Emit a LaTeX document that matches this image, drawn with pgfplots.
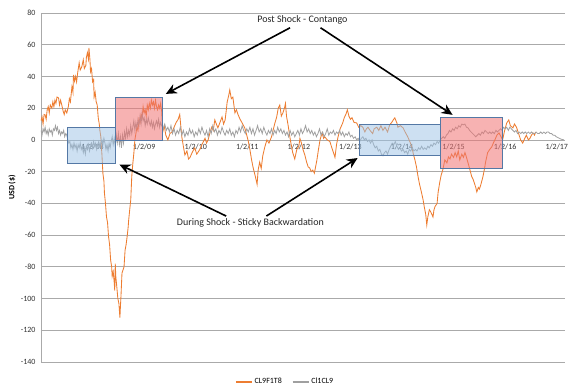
\documentclass[border=0pt]{standalone}
\usepackage{pgfplots}
\pgfplotsset{compat=1.18}
\usepackage{pgfplotstable}
\usepackage{fontspec}
\setmainfont{Carlito}
\usetikzlibrary{arrows.meta}
\definecolor{xlorange}{RGB}{237,125,49}
\definecolor{xlgray}{RGB}{160,160,160}
\definecolor{gridc}{RGB}{170,170,170}
\definecolor{boxedge}{RGB}{84,120,165}
\definecolor{pinkf}{RGB}{240,115,115}
\definecolor{bluef}{RGB}{155,194,230}

\pgfplotstableread{
x y
2007.00 12
2007.02 14.5
2007.04 10
2007.06 16
2007.08 15.8
2007.10 13
2007.12 19
2007.14 21
2007.16 17
2007.18 22
2007.21 20
2007.23 24
2007.25 21
2007.27 25
2007.29 23
2007.31 27
2007.34 26.5
2007.36 22
2007.38 25
2007.41 21
2007.43 18
2007.45 16
2007.47 19
2007.50 17
2007.53 21
2007.55 26
2007.57 24
2007.60 33.5
2007.62 30
2007.63 41
2007.65 37
2007.67 40
2007.69 36.6
2007.71 42
2007.74 48.6
2007.76 44
2007.79 46
2007.82 50.5
2007.84 45
2007.87 47
2007.88 52
2007.90 55
2007.92 51
2007.93 58
2007.95 50
2007.96 43
2007.98 45
2008.00 36.6
2008.02 38
2008.03 27
2008.05 30
2008.07 24
2008.09 22
2008.11 13.9
2008.13 10
2008.14 6.3
2008.16 2
2008.17 -4
2008.18 -8.5
2008.20 -21
2008.22 -26
2008.23 -33.5
2008.25 -40
2008.27 -48.6
2008.29 -52
2008.31 -61
2008.33 -66
2008.35 -75.7
2008.37 -80
2008.38 -86
2008.40 -83
2008.42 -90
2008.43 -95
2008.44 -78
2008.45 -86
2008.47 -92.7
2008.49 -100
2008.51 -103
2008.53 -112
2008.54 -105
2008.55 -99
2008.57 -84
2008.59 -82
2008.61 -80
2008.63 -69.6
2008.65 -66
2008.67 -61
2008.69 -55
2008.70 -50.5
2008.72 -44
2008.74 -37.9
2008.76 -23
2008.78 -15
2008.80 -8.5
2008.82 0
2008.84 4
2008.86 8
2008.88 6
2008.90 13
2008.92 11
2008.94 16
2008.96 14
2008.98 21
2009.00 17
2009.02 19
2009.04 15
2009.06 22
2009.08 19
2009.10 23
2009.12 20
2009.14 25
2009.16 22
2009.18 24
2009.20 20
2009.22 25
2009.24 21
2009.26 19
2009.28 22
2009.30 20
2009.32 23
2009.34 18
2009.36 5
2009.39 9
2009.42 3
2009.46 0
2009.50 4
2009.54 5
2009.58 8
2009.62 11
2009.66 13
2009.69 16
2009.71 9
2009.73 2
2009.76 -4
2009.79 -9.5
2009.83 -7
2009.86 -12
2009.89 -11
2009.93 -8
2009.98 -5
2010.02 -9
2010.08 -6
2010.12 -3
2010.18 1
2010.21 -2
2010.24 0
2010.28 5
2010.31 8
2010.34 6
2010.37 12.6
2010.40 10
2010.43 7.6
2010.47 11
2010.51 14.5
2010.54 10
2010.57 12.6
2010.59 18
2010.61 24
2010.64 28
2010.66 31.5
2010.69 26
2010.72 27
2010.74 22
2010.76 17
2010.79 19
2010.82 16
2010.86 13
2010.90 10.7
2010.95 7.6
2010.99 3
2011.02 -1
2011.05 -6
2011.08 -12
2011.11 -17
2011.14 -21
2011.17 -25
2011.19 -28
2011.21 -19
2011.24 -14
2011.27 -18
2011.30 -10
2011.34 -4.4
2011.38 0
2011.42 -2
2011.47 2
2011.50 6
2011.53 10
2011.57 14.5
2011.60 20
2011.63 22
2011.66 15
2011.69 17
2011.72 20
2011.74 23
2011.76 15
2011.79 9.5
2011.82 3
2011.84 -1
2011.88 -8
2011.92 -12
2011.96 -6
2012.00 -4
2012.02 1
2012.05 -2
2012.08 -6
2012.12 -10
2012.15 -14
2012.18 -17
2012.21 -17.7
2012.24 -20
2012.27 -19
2012.30 -21
2012.33 -16
2012.35 -12.6
2012.38 -6
2012.41 0
2012.45 4.4
2012.48 1
2012.50 2
2012.55 0
2012.60 -1
2012.64 -5
2012.68 -9
2012.70 -11
2012.73 -3
2012.76 2
2012.80 7
2012.85 10.7
2012.88 14
2012.91 16
2012.94 19
2012.97 15
2013.00 13
2013.03 14
2013.07 11
2013.12 10.7
2013.16 8
2013.20 9
2013.24 8
2013.28 5
2013.31 7
2013.34 8
2013.38 6
2013.43 4
2013.46 7
2013.51 8
2013.55 6
2013.59 9
2013.63 6
2013.67 8
2013.72 5
2013.76 9.5
2013.80 11
2013.83 12.6
2013.86 13.9
2013.90 10.7
2013.92 8
2013.97 9
2014.02 7.6
2014.06 5
2014.11 2
2014.15 -1
2014.19 -4.4
2014.22 -9
2014.25 -12.6
2014.28 -17
2014.31 -23
2014.34 -28
2014.38 -33.5
2014.41 -38
2014.43 -42
2014.46 -47
2014.48 -53.6
2014.50 -48.6
2014.53 -44
2014.55 -45
2014.58 -47
2014.60 -48.6
2014.62 -44
2014.64 -42
2014.68 -40
2014.70 -33
2014.73 -27
2014.76 -22
2014.79 -19
2014.83 -12.6
2014.87 -14.5
2014.90 -10.7
2014.93 -12
2014.96 -9
2015.00 -11
2015.03 -8
2015.06 -10.7
2015.09 -7
2015.12 -12.6
2015.16 -9
2015.19 -11
2015.22 -8
2015.25 -11
2015.28 -14.5
2015.31 -18
2015.35 -23
2015.38 -25
2015.41 -28
2015.43 -30
2015.45 -32.8
2015.48 -30
2015.50 -31
2015.53 -28
2015.57 -23
2015.60 -18
2015.62 -14
2015.66 -8
2015.70 -6
2015.74 -4.4
2015.77 -2
2015.80 0
2015.84 3
2015.88 4.4
2015.92 2
2015.95 0
2015.99 6
2016.03 10.7
2016.07 12.6
2016.10 9
2016.15 7.6
2016.18 10
2016.22 8
2016.26 4
2016.30 0
2016.34 -2
2016.38 1
2016.41 3
2016.45 0
2016.48 1
2016.51 3
2016.54 4.4
2016.57 3
2016.59 5
}\orangedata

\pgfplotstableread{
x y
2007.00 6
2007.02 3
2007.04 7
2007.06 5
2007.08 8
2007.10 4
2007.12 6
2007.14 3
2007.16 7
2007.18 5
2007.20 6
2007.22 3
2007.24 7
2007.26 6
2007.28 9
2007.30 6
2007.32 8
2007.34 4
2007.36 6
2007.38 3
2007.40 5
2007.42 4
2007.44 6
2007.46 2
2007.48 4
2007.50 3
2007.52 0
2007.54 -2
2007.56 -1
2007.58 -5
2007.60 -3
2007.62 -6
2007.64 -2
2007.66 -5
2007.68 -3
2007.70 -7
2007.72 -3
2007.74 -5
2007.76 -2
2007.78 -6
2007.80 -4
2007.82 -8
2007.84 -5
2007.86 -9
2007.88 -4
2007.90 -6
2007.92 -3
2007.94 -7
2007.96 -4
2007.98 -2
2008.00 -5
2008.02 -1
2008.04 -4
2008.06 -2
2008.08 -6
2008.10 -3
2008.12 -1
2008.14 -4
2008.16 -2
2008.18 0
2008.20 -3
2008.22 1
2008.24 -2
2008.26 -6
2008.28 -3
2008.30 -7
2008.32 -2
2008.34 -5
2008.36 -1
2008.38 2
2008.40 -3
2008.42 1
2008.44 -4
2008.46 3
2008.48 -2
2008.50 4
2008.52 -3
2008.54 2
2008.56 -5
2008.58 3
2008.60 -2
2008.62 5
2008.64 1
2008.66 7
2008.68 2
2008.70 6
2008.72 3
2008.74 9
2008.76 4
2008.78 8
2008.80 12
2008.82 6
2008.84 11
2008.86 7
2008.88 13
2008.90 9
2008.92 15
2008.94 10
2008.96 17
2008.98 12
2009.00 14
2009.02 9
2009.04 13
2009.06 10
2009.08 14
2009.10 11
2009.12 9
2009.14 12
2009.16 8
2009.18 11
2009.20 7
2009.22 10
2009.24 12
2009.26 9
2009.28 13
2009.30 8
2009.32 11
2009.34 9
2009.37 7
2009.40 10
2009.43 6
2009.46 8
2009.49 5
2009.52 9
2009.55 4
2009.58 7
2009.61 3
2009.64 6
2009.67 4
2009.70 8
2009.73 3
2009.76 6
2009.79 2
2009.82 5
2009.85 3
2009.88 7
2009.91 4
2009.94 6
2009.97 2
2010.00 5
2010.03 3
2010.06 7
2010.09 4
2010.12 8
2010.15 5
2010.18 3
2010.21 6
2010.24 2
2010.27 7
2010.30 4
2010.33 9
2010.36 5
2010.39 7
2010.42 3
2010.45 6
2010.48 4
2010.51 8
2010.54 5
2010.57 3
2010.60 6
2010.63 4
2010.66 7
2010.69 3
2010.72 5
2010.75 2
2010.78 6
2010.81 4
2010.84 8
2010.87 5
2010.90 9
2010.93 6
2010.96 4
2010.99 7
2011.02 5
2011.05 8
2011.08 4
2011.11 7
2011.14 3
2011.17 6
2011.20 9
2011.23 5
2011.26 7
2011.29 4
2011.32 8
2011.35 5
2011.38 3
2011.41 6
2011.44 4
2011.47 7
2011.50 3
2011.53 6
2011.56 4
2011.59 8
2011.62 5
2011.65 7
2011.68 4
2011.71 6
2011.74 3
2011.77 5
2011.80 2
2011.83 6
2011.86 3
2011.89 5
2011.92 2
2011.95 4
2011.98 6
2012.01 3
2012.04 7
2012.07 4
2012.10 6
2012.13 9
2012.16 5
2012.19 7
2012.22 4
2012.25 6
2012.28 3
2012.31 5
2012.34 2
2012.37 4
2012.40 7
2012.43 3
2012.46 5
2012.49 2
2012.52 4
2012.55 7
2012.58 3
2012.61 5
2012.64 4
2012.67 6
2012.70 3
2012.73 5
2012.76 4
2012.79 6
2012.82 3
2012.85 5
2012.88 2
2012.91 4
2012.94 3
2012.97 5
2013.00 2
2013.03 3
2013.06 1
2013.09 2
2013.12 0
2013.15 1
2013.18 -1
2013.21 1
2013.24 2
2013.27 0
2013.30 1
2013.33 -1
2013.36 0
2013.39 -2
2013.42 0
2013.45 -3
2013.48 -5
2013.51 -4
2013.54 -7
2013.57 -6
2013.60 -9
2013.63 -10
2013.66 -8
2013.69 -7
2013.72 -9
2013.75 -6
2013.78 -4
2013.81 -2
2013.84 -3
2013.87 -1
2013.90 -4
2013.93 -6
2013.96 -5
2013.99 -7
2014.02 -6
2014.05 -8
2014.08 -7
2014.11 -9
2014.14 -6
2014.17 -7
2014.20 -5
2014.23 -7
2014.26 -6
2014.29 -7
2014.32 -5
2014.35 -6
2014.38 -4
2014.41 -6
2014.44 -5
2014.47 -6
2014.50 -4
2014.53 -5
2014.56 -3
2014.59 -4
2014.62 -2
2014.65 -3
2014.68 -1
2014.71 -2
2014.74 0
2014.77 1
2014.80 2
2014.83 1
2014.86 3
2014.89 4
2014.92 6
2014.95 5
2014.98 7
2015.01 6
2015.04 8
2015.07 7
2015.10 9
2015.13 8
2015.16 10
2015.19 9.5
2015.22 10
2015.25 8
2015.28 7.6
2015.31 6
2015.34 5
2015.37 4
2015.40 3
2015.43 2
2015.46 3
2015.49 4
2015.52 3
2015.55 5
2015.58 4
2015.61 6
2015.64 5
2015.67 4
2015.70 5
2015.73 4
2015.76 5
2015.79 4
2015.82 6
2015.85 5
2015.88 6
2015.91 7
2015.94 6
2015.97 8
2016.00 7
2016.03 8
2016.06 6
2016.09 8
2016.12 7
2016.15 6
2016.18 5
2016.21 6
2016.24 4
2016.27 5
2016.30 4
2016.33 5
2016.36 4
2016.39 5
2016.42 4
2016.45 5
2016.48 4
2016.51 5
2016.54 4
2016.57 4
2016.60 5
2016.63 4
2016.66 4
2016.69 5
2016.72 4
2016.75 5
2016.78 4
2016.81 5
2016.84 5
2016.87 4
2016.90 4
2016.93 3
2016.96 3
2016.99 2
2017.02 1.5
2017.05 1
2017.08 0.5
2017.14 0
}\graydata

\begin{document}
\begin{tikzpicture}
\begin{axis}[
  scale only axis,
  width=524pt, height=349pt,
  xmin=2007, xmax=2017.16,
  ymin=-140, ymax=80,
  axis x line=middle,
  axis y line=left,
  axis line style={-},
  x axis line style={draw=none},
  y axis line style={draw=gridc, line width=0.8pt},
  xtick={2007,2008,...,2017},
  xticklabels={1/2/07,1/2/08,1/2/09,1/2/10,1/2/11,1/2/12,1/2/13,1/2/14,1/2/15,1/2/16,1/2/17},
  ytick={-140,-120,...,80},
  major tick length=0pt,
  ymajorgrids,
  grid style={draw=gridc, line width=0.8pt},
  /pgf/number format/assume math mode=true,
  tick label style={font=\fontsize{8}{9}\selectfont, text=black!80},
  x tick label style={yshift=-1pt},
  y tick label style={xshift=-2pt},
  ylabel={USD (\$)},
  y label style={at={(axis description cs:-0.0553,0.5)}, anchor=center, font=\fontsize{8}{9}\selectfont\bfseries},
  legend style={at={(rel axis cs:0.466,-0.057)}, anchor=center, draw=none, fill=none,
    font=\fontsize{8}{9}\selectfont, legend columns=2,
    /tikz/every even column/.append style={column sep=8pt}},
  legend image code/.code={\draw[#1, line width=1.4pt] (0pt,0pt) -- (16pt,0pt);},
  clip=true,
]
\addplot[color=xlorange, line width=0.85pt] table[x=x,y=y] {\orangedata};
\addlegendentry{CL9F1T8}
\addplot[color=xlgray, line width=0.8pt] table[x=x,y=y] {\graydata};
\addlegendentry{Cl1CL9}

% highlight boxes
\draw[fill=bluef, fill opacity=0.5, draw=boxedge, line width=0.8pt] (axis cs:2007.52,-14.5) rectangle (axis cs:2008.45,8.2);
\draw[fill=pinkf, fill opacity=0.55, draw=boxedge, line width=0.8pt] (axis cs:2008.45,0) rectangle (axis cs:2009.35,27);
\draw[fill=bluef, fill opacity=0.5, draw=boxedge, line width=0.8pt] (axis cs:2013.18,-10) rectangle (axis cs:2014.75,10);
\draw[fill=pinkf, fill opacity=0.55, draw=boxedge, line width=0.8pt] (axis cs:2014.75,-17.7) rectangle (axis cs:2015.95,14.5);

% annotations
\node[font=\fontsize{10}{12}\selectfont, text=black!85] at (axis cs:2012.07,75.7) {Post Shock - Contango};
\node[font=\fontsize{10}{12}\selectfont, text=black!85] at (axis cs:2011.06,-52.4) {During Shock - Sticky Backwardation};
\draw[line width=1.6pt, -{Stealth[length=11pt,width=10pt]}] (axis cs:2011.83,70.7) -- (axis cs:2009.42,29);
\draw[line width=1.6pt, -{Stealth[length=11pt,width=10pt]}] (axis cs:2012.42,70.7) -- (axis cs:2014.98,15.8);
\draw[line width=1.6pt, -{Stealth[length=11pt,width=10pt]}] (axis cs:2010.59,-48) -- (axis cs:2008.52,-15.5);
\draw[line width=1.6pt, -{Stealth[length=11pt,width=10pt]}] (axis cs:2011.37,-48) -- (axis cs:2013.14,-11.4);
\end{axis}
\pgfresetboundingbox
\path[use as bounding box] (-41pt,-29pt) rectangle (532pt,362pt);
\end{tikzpicture}
\end{document}
